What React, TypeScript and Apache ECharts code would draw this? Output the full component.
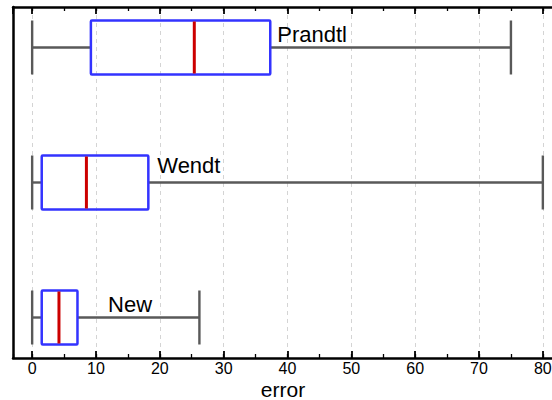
import { useEffect, useRef } from "react";
import * as echarts from "echarts";

// Error distribution of each method (five-number summary per box)
const methods = ["New", "Wendt", "Prandtl"];
const lowWhisker = [0, 0, 0];
const lowerQuartile = [1.5, 1.5, 9.2];
const medians = [4.2, 8.5, 25.4];
const upperQuartile = [7.1, 18.2, 37.3];
const highWhisker = [26.2, 80, 75];

// Labelled ticks on the error axis
const tickLabels = [0, 10, 20, 30, 40, 50, 60, 70, 80];

// Where each method's name sits: x in error units, y lift in pixels above the box centre
const nameAnchorX = [11.9, 19.6, 38.4];
const nameLift = [13, 17, 13];

const FONT = "'Liberation Sans', Arial, Helvetica, sans-serif";
const X_MIN = -3;
const X_MAX = 83;
const BOX_HALF = 0.2;

export default function App() {
  const ref = useRef<HTMLDivElement>(null);

  useEffect(() => {
    if (!ref.current) return;
    const chart = echarts.init(ref.current, undefined, { renderer: "svg" });

    const rows = methods.map((_, i) => [
      i + 1,
      lowWhisker[i],
      lowerQuartile[i],
      medians[i],
      upperQuartile[i],
      highWhisker[i],
    ]);

    const baseX = {
      type: "value",
      min: X_MIN,
      max: X_MAX,
      gridIndex: 0,
    };

    const option: any = {
      animation: false,
      backgroundColor: "#fff",
      grid: {
        left: 13,
        top: 7,
        width: 549,
        height: 351,
        containLabel: false,
        outerBoundsMode: "none",
      },
      xAxis: [
        {
          ...baseX,
          position: "bottom",
          splitNumber: 9,
          name: "error",
          nameLocation: "middle",
          nameGap: 23,
          nameMoveOverlap: false,
          nameTextStyle: {
            fontFamily: FONT,
            fontSize: 21,
            lineHeight: 17,
            color: "#000",
            padding: [0, 9, 0, 0],
          },
          axisLine: { show: true, onZero: false, lineStyle: { color: "#000", width: 2.5 } },
          axisTick: { show: true, inside: true, length: 7, lineStyle: { color: "#000", width: 1.8 } },
          axisLabel: {
            show: true,
            margin: 4,
            showMinLabel: false,
            showMaxLabel: false,
            fontFamily: FONT,
            fontSize: 16,
            lineHeight: 13,
            color: "#000",
            formatter: (v: number) => (tickLabels.includes(v) ? String(v) : ""),
          },
          splitLine: { show: true, lineStyle: { color: "#d4d4d4", width: 1, type: [4, 4] } },
        },
        {
          ...baseX,
          position: "top",
          splitNumber: 9,
          axisLine: { show: true, onZero: false, lineStyle: { color: "#000", width: 2.5 } },
          axisTick: { show: true, inside: true, length: 7, lineStyle: { color: "#000", width: 1.8 } },
          axisLabel: { show: false },
          splitLine: { show: false },
        },
        {
          ...baseX,
          position: "bottom",
          splitNumber: 17,
          axisLine: { show: false, onZero: false },
          axisTick: { show: true, inside: true, length: 4, lineStyle: { color: "#000", width: 1.3 } },
          axisLabel: { show: false },
          splitLine: { show: false },
        },
        {
          ...baseX,
          position: "top",
          splitNumber: 17,
          axisLine: { show: false, onZero: false },
          axisTick: { show: true, inside: true, length: 4, lineStyle: { color: "#000", width: 1.3 } },
          axisLabel: { show: false },
          splitLine: { show: false },
        },
      ],
      yAxis: {
        type: "value",
        min: 0.7,
        max: 3.3,
        axisLine: { show: true, onZero: false, lineStyle: { color: "#000", width: 2.5 } },
        axisTick: { show: false },
        axisLabel: { show: false },
        splitLine: { show: false },
      },
      series: [
        {
          type: "custom",
          xAxisIndex: 0,
          yAxisIndex: 0,
          data: rows,
          encode: { x: [1, 2, 3, 4, 5], y: 0 },
          renderItem: (params: any, api: any) => {
            const idx = params.dataIndex;
            const cat = api.value(0);
            const lo = api.value(1);
            const q1 = api.value(2);
            const med = api.value(3);
            const q3 = api.value(4);
            const hi = api.value(5);
            const top = api.coord([q1, cat + BOX_HALF])[1];
            const bottom = api.coord([q1, cat - BOX_HALF])[1];
            const mid = api.coord([q1, cat])[1];
            const xLo = api.coord([lo, cat])[0];
            const xQ1 = api.coord([q1, cat])[0];
            const xMed = api.coord([med, cat])[0];
            const xQ3 = api.coord([q3, cat])[0];
            const xHi = api.coord([hi, cat])[0];
            const whisker = { stroke: "#595959", lineWidth: 2.4 };
            const nameX = api.coord([nameAnchorX[idx], cat])[0];
            return {
              type: "group",
              children: [
                { type: "line", shape: { x1: xLo, y1: mid, x2: xQ1, y2: mid }, style: whisker },
                { type: "line", shape: { x1: xQ3, y1: mid, x2: xHi, y2: mid }, style: whisker },
                { type: "line", shape: { x1: xLo, y1: top, x2: xLo, y2: bottom }, style: whisker },
                { type: "line", shape: { x1: xHi, y1: top, x2: xHi, y2: bottom }, style: whisker },
                {
                  type: "rect",
                  shape: { x: xQ1, y: top, width: xQ3 - xQ1, height: bottom - top, r: 1 },
                  style: { fill: "none", stroke: "#3333ff", lineWidth: 2.5 },
                },
                {
                  type: "line",
                  shape: { x1: xMed, y1: top + 1, x2: xMed, y2: bottom - 1 },
                  style: { stroke: "#cc0000", lineWidth: 3 },
                },
                {
                  type: "text",
                  style: {
                    text: methods[idx],
                    x: nameX,
                    y: mid - nameLift[idx],
                    fontFamily: FONT,
                    fontSize: 22,
                    fill: "#000",
                    align: "left",
                    verticalAlign: "middle",
                  },
                },
              ],
            };
          },
        },
      ],
    };

    chart.setOption(option);
    return () => chart.dispose();
  }, []);

  return (
    <div
      ref={ref}
      style={{ position: "fixed", left: 0, top: 0, width: 552, height: 400, background: "#fff" }}
    />
  );
}
